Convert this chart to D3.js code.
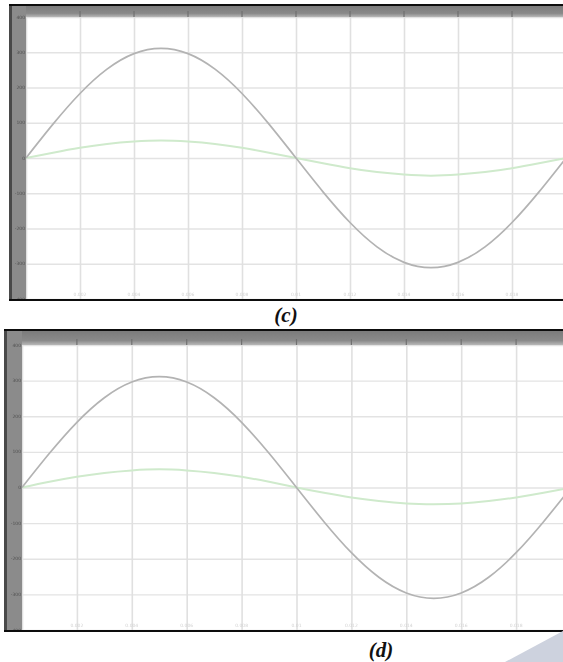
<!DOCTYPE html>
<html>
<head>
<meta charset="utf-8">
<script src="https://cdn.jsdelivr.net/npm/d3@7"></script>
<style>
  html, body { margin: 0; padding: 0; background: #fff; }
  svg { display: block; }
</style>
</head>
<body>
<svg id="chart" width="563" height="662"></svg>
<script>
// Sample times (s) over one 50 Hz cycle
const timeS = [0, 0.001, 0.002, 0.003, 0.004, 0.005, 0.006, 0.007, 0.008, 0.009, 0.010,
               0.011, 0.012, 0.013, 0.014, 0.015, 0.016, 0.017, 0.018, 0.019, 0.020];

// Panel (c): grid voltage and injected current
const voltageC = [0, 96, 183, 252, 296, 311, 296, 252, 183, 96, 0,
                  -96, -183, -252, -296, -311, -296, -252, -183, -96, 0];
const currentC = [0, 15, 29, 40, 47, 50, 47, 40, 29, 15, 0,
                  -15, -29, -40, -47, -50, -47, -40, -29, -15, 0];

// Panel (d): grid voltage and injected current
const voltageD = [0, 96, 183, 252, 296, 311, 296, 252, 183, 96, 0,
                  -96, -183, -252, -296, -311, -296, -252, -183, -96, 0];
const currentD = [0, 16, 30, 41, 48, 51, 48, 41, 30, 16, 0,
                  -15, -28, -38, -45, -47, -45, -38, -28, -15, 0];

// Axis ticks
const xTicks = [0, 0.002, 0.004, 0.006, 0.008, 0.010, 0.012, 0.014, 0.016, 0.018, 0.020];
const yTicks = [-400, -300, -200, -100, 0, 100, 200, 300, 400];
const xTickLabels = ["0", "0.002", "0.004", "0.006", "0.008", "0.01", "0.012", "0.014", "0.016", "0.018", "0.02"];

const panelLabels = ["(c)", "(d)"];

const svg = d3.select("#chart");
const W = 563;

const defs = svg.append("defs");
defs.append("filter").attr("id", "soft")
  .append("feGaussianBlur").attr("stdDeviation", 0.6);

const bandGrad = defs.append("linearGradient").attr("id", "band")
  .attr("x1", 0).attr("x2", 0).attr("y1", 0).attr("y2", 1);
bandGrad.append("stop").attr("offset", "0%").attr("stop-color", "#7a7a7a");
bandGrad.append("stop").attr("offset", "70%").attr("stop-color", "#8a8a8a");
bandGrad.append("stop").attr("offset", "100%").attr("stop-color", "#b8b8b8");

const panels = [
  { edge: 9, top: 5, left: 26, right: 566, plotTop: 17, bottom: 299,
    v: voltageC, i: currentC, label: panelLabels[0], lx: 286, ly: 322 },
  { edge: 4, top: 330, left: 22, right: 571, plotTop: 345, bottom: 630,
    v: voltageD, i: currentD, label: panelLabels[1], lx: 381, ly: 657 }
];

panels.forEach(p => {
  const g = svg.append("g").attr("filter", "url(#soft)");

  const x = d3.scaleLinear().domain([0, 0.02]).range([p.left, p.right]);
  const y = d3.scaleLinear().domain([-400, 400]).range([p.bottom, p.plotTop]);

  // plot area
  g.append("rect").attr("x", p.left).attr("y", p.plotTop)
    .attr("width", W - p.left).attr("height", p.bottom - p.plotTop).attr("fill", "#ffffff");

  // horizontal grid
  g.append("g")
    .attr("transform", `translate(${p.left},0)`)
    .call(d3.axisLeft(y).tickValues(yTicks).tickSize(-(p.right - p.left)).tickFormat(""))
    .call(a => a.select(".domain").remove())
    .call(a => a.selectAll("line").attr("stroke", "#e3e3e3").attr("stroke-width", 1.4));

  // vertical grid
  g.append("g")
    .attr("transform", `translate(0,${p.bottom})`)
    .call(d3.axisBottom(x).tickValues(xTicks).tickSize(-(p.bottom - p.plotTop)).tickFormat(""))
    .call(a => a.select(".domain").remove())
    .call(a => a.selectAll("line").attr("stroke", "#e0e0e0").attr("stroke-width", 1.6));

  // faint x tick labels along the bottom of the plot
  g.append("g").selectAll("text").data(xTicks.slice(1, -1)).join("text")
    .attr("x", d => x(d)).attr("y", p.bottom - 3)
    .attr("text-anchor", "middle")
    .attr("font-family", "DejaVu Sans").attr("font-size", 4.5)
    .attr("fill", "#d2d2d2")
    .text((d, k) => xTickLabels[k + 1]);

  // curves
  const lineV = d3.line().x((d, k) => x(timeS[k])).y(d => y(d)).curve(d3.curveNatural);
  g.append("path").datum(p.i).attr("d", lineV)
    .attr("fill", "none").attr("stroke", "#cfeacc").attr("stroke-width", 2);
  g.append("path").datum(p.v).attr("d", lineV)
    .attr("fill", "none").attr("stroke", "#b3b3b3").attr("stroke-width", 1.7);

  // top gray band with darker tick stubs
  g.append("rect").attr("x", p.edge).attr("y", p.top)
    .attr("width", W - p.edge).attr("height", p.plotTop - p.top).attr("fill", "url(#band)");
  g.append("g").selectAll("line").data(xTicks.slice(1)).join("line")
    .attr("x1", d => x(d)).attr("x2", d => x(d))
    .attr("y1", p.plotTop - 6).attr("y2", p.plotTop)
    .attr("stroke", "#707070").attr("stroke-width", 1.2);

  // left gray bar with y tick labels
  g.append("rect").attr("x", p.edge).attr("y", p.top)
    .attr("width", p.left - p.edge).attr("height", p.bottom - p.top).attr("fill", "#8b8b8b");
  g.append("rect").attr("x", p.edge).attr("y", p.top)
    .attr("width", 3).attr("height", p.bottom - p.top).attr("fill", "#4a4a4a");
  g.append("g").selectAll("text").data(yTicks).join("text")
    .attr("x", p.left - 1).attr("y", d => y(d) + 1.5)
    .attr("text-anchor", "end")
    .attr("font-family", "DejaVu Sans").attr("font-size", 4.5)
    .attr("fill", "#505050")
    .text(d => d);

  // top and bottom frame lines
  g.append("rect").attr("x", p.edge).attr("y", p.top - 1)
    .attr("width", W - p.edge).attr("height", 2).attr("fill", "#111");
  g.append("rect").attr("x", p.edge).attr("y", p.bottom)
    .attr("width", W - p.edge).attr("height", 2).attr("fill", "#111");

  // panel caption
  svg.append("text").attr("x", p.lx).attr("y", p.ly)
    .attr("text-anchor", "middle")
    .attr("font-family", "Liberation Serif, Times New Roman, serif")
    .attr("font-weight", "bold").attr("font-style", "italic")
    .attr("font-size", 21).attr("fill", "#111")
    .text(p.label);
});

// page corner decoration
svg.append("polygon")
  .attr("points", "505,662 563,631 563,662")
  .attr("fill", "#cdd2de");
</script>
</body>
</html>
